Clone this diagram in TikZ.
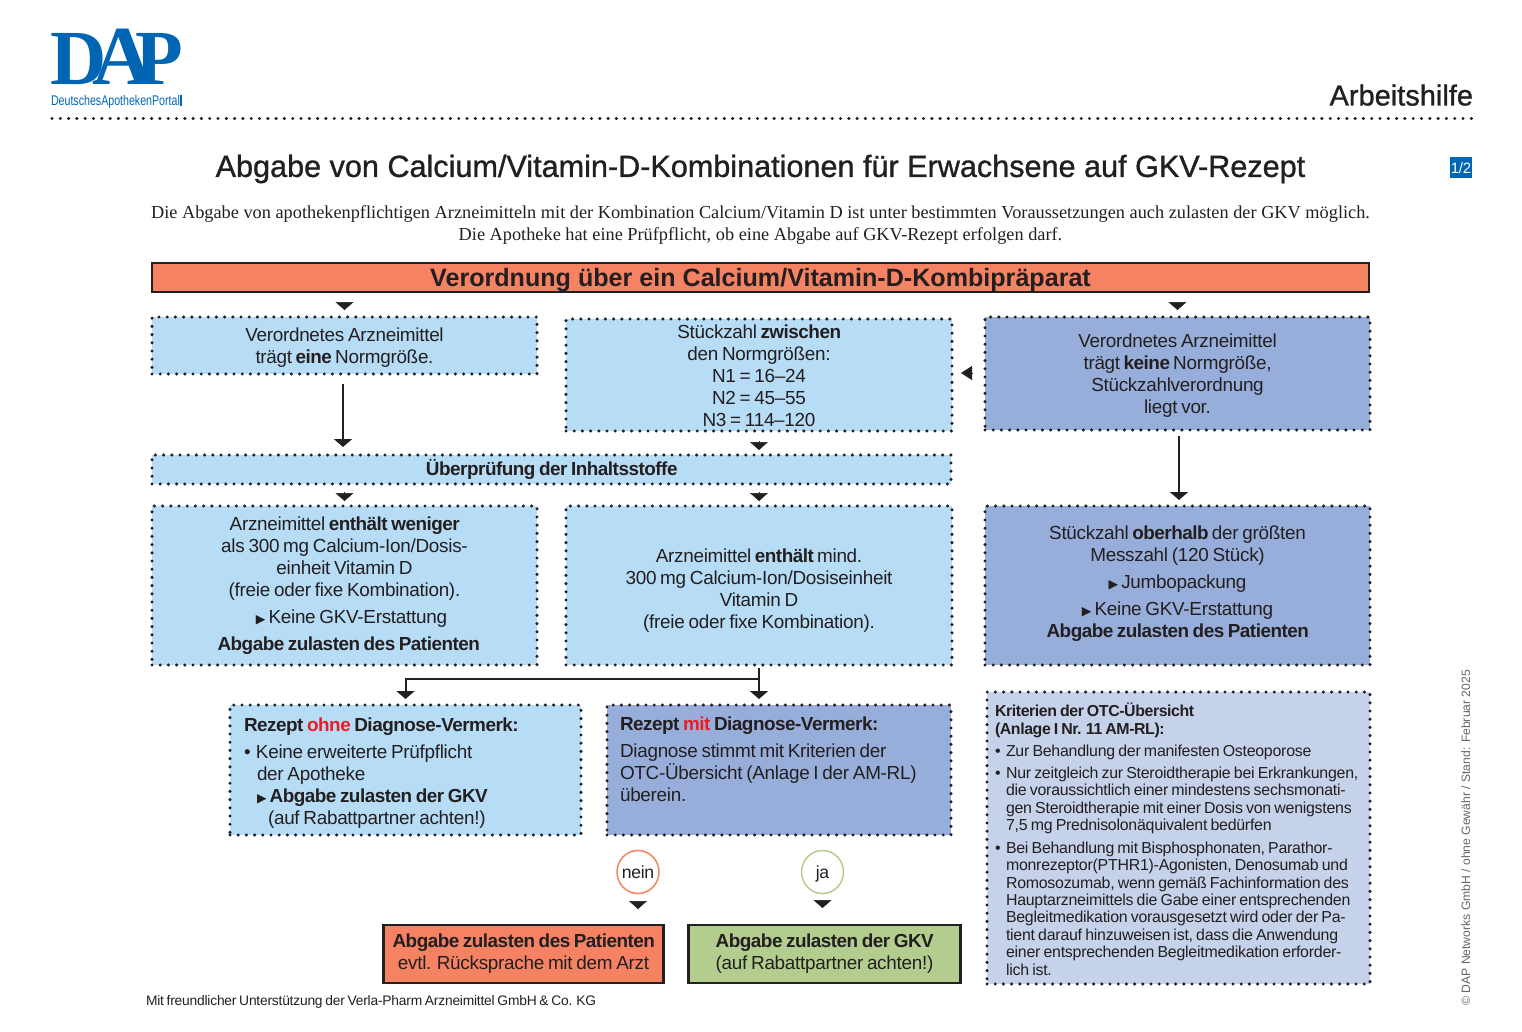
\documentclass[tikz,border=0pt]{standalone}
\usepackage{fontspec}
\usetikzlibrary{arrows.meta,shapes.geometric}
\setmainfont{Liberation Sans}[LetterSpace=-1.5,WordSpace=0.75,BoldFeatures={LetterSpace=-2.6}]
\newfontfamily\plainsans{Liberation Sans}
\newfontfamily\medsans{Liberation Sans}[FakeBold=1]
\newfontfamily\titleserif{Liberation Serif}
\newfontfamily\symfont{DejaVu Sans}
\definecolor{ink}{HTML}{231F20}
\definecolor{dapblue}{HTML}{0066B3}
\definecolor{lblue}{HTML}{B7DCF6}
\definecolor{mblue}{HTML}{97AEDB}
\definecolor{pblue}{HTML}{C5D2EA}
\definecolor{dred}{HTML}{F58263}
\definecolor{dgreen}{HTML}{B3CD8E}
\definecolor{txtred}{HTML}{ED1C24}
\newcommand{\bodyfont}{\fontsize{18.9}{22}\selectfont}
\newcommand{\smallbody}{\fontsize{15.9}{17.4}\selectfont}
\newcommand{\tr}{{\symfont\fontsize{12.5}{12.5}\selectfont ▶}\hspace{3pt}}
\newcommand{\bu}[1]{\makebox[#1pt][l]{•}}
% \dn{s}: move the block of lines down by s; \upb{s}: move it up by s
\newcommand{\dn}[1]{\rule{0pt}{\dimexpr 14pt+2\dimexpr #1pt\relax\relax}}
\newcommand{\upb}[1]{\rule[-\dimexpr 4pt+2\dimexpr #1pt\relax\relax]{0pt}{1pt}}
\tikzset{
  x=1pt,y=-1pt,
  every node/.style={text=ink,inner sep=0pt,outer sep=0pt},
  dotbox/.style={draw=ink,line width=3.4pt,dash pattern=on 0pt off 8.2pt,line cap=round,
    minimum width=#1,align=center,font=\bodyfont},
  lightbox/.style={dotbox=#1,fill=lblue},
  midbox/.style={dotbox=#1,fill=mblue},
  solidbox/.style={draw=ink,line width=2.5pt,align=center,font=\bodyfont},
  conn/.style={draw=ink,line width=2pt,-{Triangle[width=18pt,length=8pt]}},
  tipc/.style 2 args={draw=ink,line width=.5pt,-{Triangle[width=18pt,length=8pt]},shorten <=#1pt,shorten >=#2pt},
  tiph/.style 2 args={draw=ink,line width=.5pt,-{Triangle[width=14pt,length=11pt]},shorten <=#1pt,shorten >=#2pt},
  ring/.style={draw=#1,line width=1.5pt,ellipse,inner sep=-4pt,minimum width=42pt,minimum height=43pt,font=\fontsize{17.6}{20}\selectfont},
}
\begin{document}
\begin{tikzpicture}
\useasboundingbox (0,0) rectangle (1522,1032);
% logo
\node[text=dapblue,font=\titleserif\bfseries\fontsize{78}{78}\selectfont,anchor=base west] (logoD) at (50,85) {D};
\node[text=dapblue,font=\titleserif\bfseries\fontsize{84}{84}\selectfont,anchor=base] (logoA) at (123,85) {A};
\node[text=dapblue,font=\titleserif\bfseries\fontsize{78}{78}\selectfont,anchor=base east] (logoP) at (183,85) {P};
\node[text=dapblue,font=\plainsans\fontsize{14}{14}\selectfont,anchor=base west,xscale=.76] (logotxt) at (51,105.5) {DeutschesApothekenPortal};
\node[fill=dapblue,minimum width=2pt,minimum height=11pt] (logobar) at (181,101) {};
% heading
\node[font=\medsans\fontsize{29}{29}\selectfont,anchor=base east] (arb) at (1473,105.5) {Arbeitshilfe};
\coordinate (ruleL) at (52,118.5);
\coordinate (ruleR) at (1473,118.5);
\draw[ink,line width=3.4pt,dash pattern=on 0pt off 8.3pt,line cap=round] (ruleL) -- (ruleR);
\node[font=\medsans\fontsize{30.6}{31}\selectfont] (title) at (760.5,169) {Abgabe von Calcium/Vitamin-D-Kombinationen für Erwachsene auf GKV-Rezept};
\node[fill=dapblue,minimum width=22pt,minimum height=21pt,text=white,font=\fontsize{15}{15}\selectfont] (page) at (1461,168) {1/2};
\node[font=\titleserif\fontsize{18.3}{22}\selectfont,align=center] (intro) at (760.5,225) {Die Abgabe von apothekenpflichtigen Arzneimitteln mit der Kombination Calcium/Vitamin D ist unter bestimmten Voraussetzungen auch zulasten der GKV möglich.\\Die Apotheke hat eine Prüfpflicht, ob eine Abgabe auf GKV-Rezept erfolgen darf.};
% header
\node[fill=dred,draw=ink,line width=2pt,minimum width=1217pt,minimum height=29pt,font=\plainsans\bfseries\fontsize{25.1}{26}\selectfont] (hdr) at (760.5,277.5) {\rule{0pt}{23pt}Verordnung über ein Calcium/Vitamin-D-Kombipräparat};
% row 1
\node[lightbox=385pt,minimum height=57pt] (b1) at (344.5,345.5) {\dn{2}Verordnetes Arzneimittel\\trägt \textbf{eine} Normgröße.};
\node[lightbox=386pt,minimum height=112pt] (b2) at (759,375) {\dn{0.5}Stückzahl \textbf{zwischen}\\den Normgrößen:\\N1 = 16–24\\N2 = 45–55\\N3 = 114–120};
\node[midbox=385pt,minimum height=113pt] (b3) at (1177.5,373.5) {\dn{1.5}Verordnetes Arzneimittel\\trägt \textbf{keine} Normgröße,\\Stückzahlverordnung\\liegt vor.};
\node[lightbox=799pt,minimum height=29pt] (chk) at (551.5,469.5) {\textbf{Überprüfung der Inhaltsstoffe}};
% row 2
\node[lightbox=385pt,minimum height=159pt] (b5) at (344.5,585.5) {Arzneimittel \textbf{enthält weniger}\\als 300 mg Calcium-Ion/Dosis-\\einheit Vitamin D\\(freie oder fixe Kombination).\\[5pt]\hspace*{14pt}\tr Keine GKV-Erstattung\\[5pt]\hspace*{8pt}\textbf{Abgabe zulasten des Patienten}};
\node[lightbox=386pt,minimum height=159pt] (b6) at (759,585.5) {\dn{5}Arzneimittel \textbf{enthält} mind.\\300 mg Calcium-Ion/Dosiseinheit\\Vitamin D\\(freie oder fixe Kombination).};
\node[midbox=385pt,minimum height=159pt] (b7) at (1177.5,585.5) {Stückzahl \textbf{oberhalb} der größten\\Messzahl (120 Stück)\\[5pt]\tr Jumbopackung\\[5pt]\tr Keine GKV-Erstattung\\\textbf{Abgabe zulasten des Patienten}\upb{2}};
% row 3
\node[lightbox=351pt,minimum height=130pt,align=flush left,text width=323pt] (b8) at (405.5,770) {\dn{3}\textbf{Rezept {\color{txtred}ohne} Diagnose-Vermerk:}\\[5pt]\bu{12}Keine erweiterte Prüfpflicht\\\hspace*{13pt}der Apotheke\\\hspace*{13pt}\tr\textbf{Abgabe zulasten der GKV}\\\hspace*{24pt}(auf Rabattpartner achten!)};
\node[midbox=344pt,minimum height=130pt,align=flush left,text width=318pt] (b9) at (779,770) {\textbf{Rezept {\color{txtred}mit} Diagnose-Vermerk:}\\[5pt]Diagnose stimmt mit Kriterien der\\OTC-Übersicht (Anlage I der AM-RL)\\überein.\upb{8.5}};
\node[dotbox=383pt,fill=pblue,minimum height=292pt,align=flush left,text width=367pt,font=\smallbody] (otc) at (1178.5,838) {\dn{1}\textbf{Kriterien der OTC-Übersicht}\\\textbf{(Anlage I Nr. 11 AM-RL):}\\[4.6pt]\bu{11}Zur Behandlung der manifesten Osteoporose\\[4.6pt]\bu{11}Nur zeitgleich zur Steroidtherapie bei Erkrankungen,\\\hspace*{11pt}die voraussichtlich einer mindestens sechsmonati-\\\hspace*{11pt}gen Steroidtherapie mit einer Dosis von wenigstens\\\hspace*{11pt}7,5 mg Prednisolonäquivalent bedürfen\\[5.4pt]\bu{11}Bei Behandlung mit Bisphosphonaten, Parathor-\\\hspace*{11pt}monrezeptor(PTHR1)-Agonisten, Denosumab und\\\hspace*{11pt}Romosozumab, wenn gemäß Fachinformation des\\\hspace*{11pt}Hauptarzneimittels die Gabe einer entsprechenden\\\hspace*{11pt}Begleitmedikation vorausgesetzt wird oder der Pa-\\\hspace*{11pt}tient darauf hinzuweisen ist, dass die Anwendung\\\hspace*{11pt}einer entsprechenden Begleitmedikation erforder-\\\hspace*{11pt}lich ist.};
% decision
\node[ring=dred] (nein) at (638,872) {nein};
\node[ring=dgreen] (ja) at (822.5,872) {\dn{1}ja};
\node[solidbox,fill=dred,minimum width=280pt,minimum height=58pt] (res1) at (523.5,954) {\textbf{Abgabe zulasten des Patienten}\\evtl. Rücksprache mit dem Arzt};
\node[solidbox,fill=dgreen,minimum width=272pt,minimum height=58pt] (res2) at (824.5,954) {\textbf{Abgabe zulasten der GKV}\\(auf Rabattpartner achten!)};
% footer
\node[font=\fontsize{13.8}{14}\selectfont,anchor=base west] (foot) at (146,1005) {Mit freundlicher Unterstützung der Verla-Pharm Arzneimittel GmbH \& Co. KG};
\node[text=black!60,font=\plainsans\fontsize{12.15}{13}\selectfont,rotate=90,anchor=base east] (copy) at (1470,670) {© DAP Networks GmbH / ohne Gewähr / Stand: Februar 2025};
% connectors
\draw[tipc={10}{7}] (b1.north |- hdr.south) -- (b1.north);
\draw[tipc={10}{7}] (b3.north |- hdr.south) -- (b3.north);
\draw[tiph={13}{9}] ([yshift=2pt]b3.west |- b2.east) -- ([yshift=2pt]b2.east);
\draw[tipc={10}{5}] (b2.south) -- (b2.south |- chk.north);
\draw[tipc={8}{5}] (b1.south |- chk.south) -- (b1.south |- b5.north);
\draw[tipc={8}{5}] (b2.south |- chk.south) -- (b6.north);
\draw[conn,shorten <=10pt,shorten >=8pt] ([xshift=-1.5pt]b1.south) -- ([xshift=-1.5pt]b1.south |- chk.north);
\draw[conn,shorten <=6pt,shorten >=6pt] ([xshift=1.5pt]b3.south) -- ([xshift=1.5pt]b3.south |- b7.north);
\coordinate (forkT) at ([yshift=-3pt]b6.south);
\coordinate (forkM) at ([yshift=-14pt]b6.south);
\draw[conn,shorten >=6pt] (forkT) -- (forkM) -- (forkM -| b8.north) -- (b8.north);
\draw[conn,shorten >=6pt] (forkM) -- (forkM |- b9.north);
\draw[tipc={8}{16}] (nein.south) -- (nein.south |- res1.north);
\draw[tipc={7}{17}] (ja.south) -- (ja.south |- res2.north);
\end{tikzpicture}
\end{document}
